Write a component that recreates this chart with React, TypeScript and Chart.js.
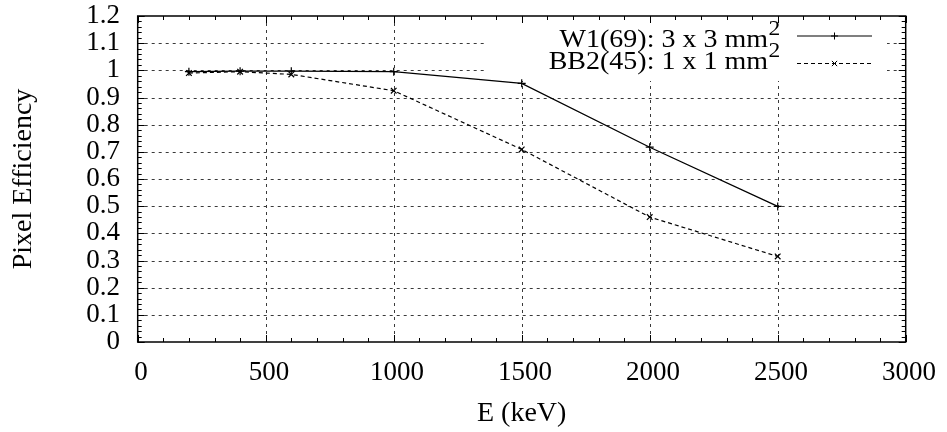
import React, { useEffect, useRef } from "react";
import { Chart, registerables } from "chart.js";

Chart.register(...registerables);

const energies = [200, 400, 600, 1000, 1500, 2000, 2500];
const w1Values = [0.995, 0.997, 0.997, 0.995, 0.952, 0.717, 0.499];
const bb2Values = [0.99, 0.995, 0.985, 0.925, 0.709, 0.46, 0.315];
const seriesNames = ["W1(69): 3 x 3 mm", "BB2(45): 1 x 1 mm"];
const seriesSup = ["2", "2"];
const xTitle = "E (keV)";
const yTitle = "Pixel Efficiency";

const FONT = "'Liberation Serif', 'Times New Roman', serif";

const gnuplotPlugin = {
  id: "gnuplotFrame",
  beforeDatasetsDraw(chart: any) {
    const { ctx, chartArea: a, scales } = chart;
    const xs = scales.x;
    const ys = scales.y;
    ctx.save();
    // grid
    ctx.strokeStyle = "#3a3a3a";
    ctx.lineWidth = 1;
    ctx.setLineDash([3, 4]);
    for (let v = 500; v < 3000; v += 500) {
      const px = Math.round(xs.getPixelForValue(v)) + 0.5;
      ctx.beginPath();
      ctx.moveTo(px, a.top);
      ctx.lineTo(px, a.bottom);
      ctx.stroke();
    }
    for (let i = 1; i < 12; i++) {
      const py = Math.round(ys.getPixelForValue(i / 10)) + 0.5;
      ctx.beginPath();
      ctx.moveTo(a.left, py);
      ctx.lineTo(a.right, py);
      ctx.stroke();
    }
    ctx.setLineDash([]);
    // key box (opaque)
    ctx.fillStyle = "#fff";
    ctx.fillRect(487, a.top + 2, 400, 63);
    // ticks
    ctx.strokeStyle = "#000";
    ctx.lineWidth = 1;
    for (let v = 0; v <= 3000; v += 100) {
      const px = Math.round(xs.getPixelForValue(v)) + 0.5;
      const len = v % 500 === 0 ? 7 : 4;
      ctx.beginPath();
      ctx.moveTo(px, a.bottom);
      ctx.lineTo(px, a.bottom - len);
      ctx.moveTo(px, a.top);
      ctx.lineTo(px, a.top + len);
      ctx.stroke();
    }
    for (let i = 0; i <= 60; i++) {
      const py = Math.round(ys.getPixelForValue(i / 50)) + 0.5;
      const len = i % 5 === 0 ? 7 : 4;
      ctx.beginPath();
      ctx.moveTo(a.left, py);
      ctx.lineTo(a.left + len, py);
      ctx.moveTo(a.right, py);
      ctx.lineTo(a.right - len, py);
      ctx.stroke();
    }
    // border
    ctx.lineWidth = 1.5;
    ctx.strokeRect(a.left, a.top, a.right - a.left, a.bottom - a.top);
    ctx.restore();
  },
  afterDraw(chart: any) {
    const { ctx } = chart;
    ctx.save();
    const rows = [
      { base: 47.3, supBase: 35, lineY: 36, dash: [], marker: "+" },
      { base: 69, supBase: 57, lineY: 63.5, dash: [4, 3], marker: "x" },
    ];
    rows.forEach((r, i) => {
      ctx.save();
      ctx.translate(768, r.base);
      ctx.scale(1.12, 1);
      ctx.font = `25px ${FONT}`;
      ctx.fillStyle = "#000";
      ctx.textAlign = "right";
      ctx.textBaseline = "alphabetic";
      ctx.fillText(seriesNames[i], 0, 0);
      ctx.restore();
      ctx.save();
      ctx.translate(768.5, r.supBase);
      ctx.scale(1.12, 1);
      ctx.font = `21px ${FONT}`;
      ctx.fillStyle = "#000";
      ctx.textAlign = "left";
      ctx.textBaseline = "alphabetic";
      ctx.fillText(seriesSup[i], 0, 0);
      ctx.restore();
      ctx.strokeStyle = "#000";
      ctx.lineWidth = 1.2;
      ctx.setLineDash(r.dash);
      ctx.beginPath();
      ctx.moveTo(797, r.lineY);
      ctx.lineTo(872, r.lineY);
      ctx.stroke();
      ctx.setLineDash([]);
      ctx.lineWidth = 1;
      const cx = 834.5;
      const s = 3.5;
      ctx.beginPath();
      if (r.marker === "+") {
        ctx.moveTo(cx - s, r.lineY);
        ctx.lineTo(cx + s, r.lineY);
        ctx.moveTo(cx, r.lineY - s);
        ctx.lineTo(cx, r.lineY + s);
      } else {
        ctx.moveTo(cx - s * 0.75, r.lineY - s * 0.75);
        ctx.lineTo(cx + s * 0.75, r.lineY + s * 0.75);
        ctx.moveTo(cx - s * 0.75, r.lineY + s * 0.75);
        ctx.lineTo(cx + s * 0.75, r.lineY - s * 0.75);
      }
      ctx.stroke();
    });
    ctx.restore();
  },
};

export default function App() {
  const ref = useRef<HTMLCanvasElement>(null);
  useEffect(() => {
    if (!ref.current) return;
    const chart = new Chart(ref.current, {
      type: "line",
      data: {
        datasets: [
          {
            label: seriesNames[0],
            data: energies.map((e, i) => ({ x: e, y: w1Values[i] })),
            borderColor: "#000",
            backgroundColor: "#000",
            borderWidth: 1.3,
            pointStyle: "cross",
            pointRadius: 4,
            pointBorderWidth: 1.2,
            tension: 0,
            fill: false,
          },
          {
            label: seriesNames[1],
            data: energies.map((e, i) => ({ x: e, y: bb2Values[i] })),
            borderColor: "#000",
            backgroundColor: "#000",
            borderWidth: 1.2,
            borderDash: [4, 3],
            pointStyle: "crossRot",
            pointRadius: 4,
            pointBorderWidth: 1.2,
            tension: 0,
            fill: false,
          },
        ],
      },
      options: {
        responsive: false,
        animation: false,
        layout: { padding: 0 },
        plugins: { legend: { display: false }, tooltip: { enabled: false } },
        scales: {
          x: {
            type: "linear",
            min: 0,
            max: 3000,
            grid: { display: false, drawTicks: false },
            border: { display: false },
            ticks: {
              stepSize: 500,
              autoSkip: false,
              color: "#000",
              padding: 15,
              maxRotation: 0,
              font: { family: FONT, size: 27, lineHeight: 1.2 },
              callback: (v: any) => " " + String(v),
            },
            title: {
              display: true,
              text: xTitle,
              color: "#000",
              font: { family: FONT, size: 28, lineHeight: 1 },
              padding: { top: 0, bottom: 4 },
            },
            afterFit: (s: any) => {
              s.height = 90;
              s.paddingLeft = 0;
              s.paddingRight = 41.3;
            },
          },
          y: {
            type: "linear",
            min: 0,
            max: 1.2,
            grid: { display: false, drawTicks: false },
            border: { display: false },
            ticks: {
              stepSize: 0.1,
              autoSkip: false,
              color: "#000",
              padding: 17.7,
              font: { family: FONT, size: 27, lineHeight: 1.2 },
              callback: (v: any) => String(Number(Number(v).toFixed(1))),
            },
            title: {
              display: true,
              text: yTitle,
              color: "#000",
              font: { family: FONT, size: 28, lineHeight: 1 },
              padding: { top: 10, bottom: 0 },
            },
            afterFit: (s: any) => {
              s.width = 137.7;
              s.paddingTop = 16;
              s.paddingBottom = 0;
            },
          },
        },
      },
      plugins: [gnuplotPlugin],
    } as any);
    return () => chart.destroy();
  }, []);
  return (
    <div style={{ position: "fixed", left: 0, top: 0, width: 947, height: 432, background: "#fff" }}>
      <canvas ref={ref} width={947} height={432} />
    </div>
  );
}
